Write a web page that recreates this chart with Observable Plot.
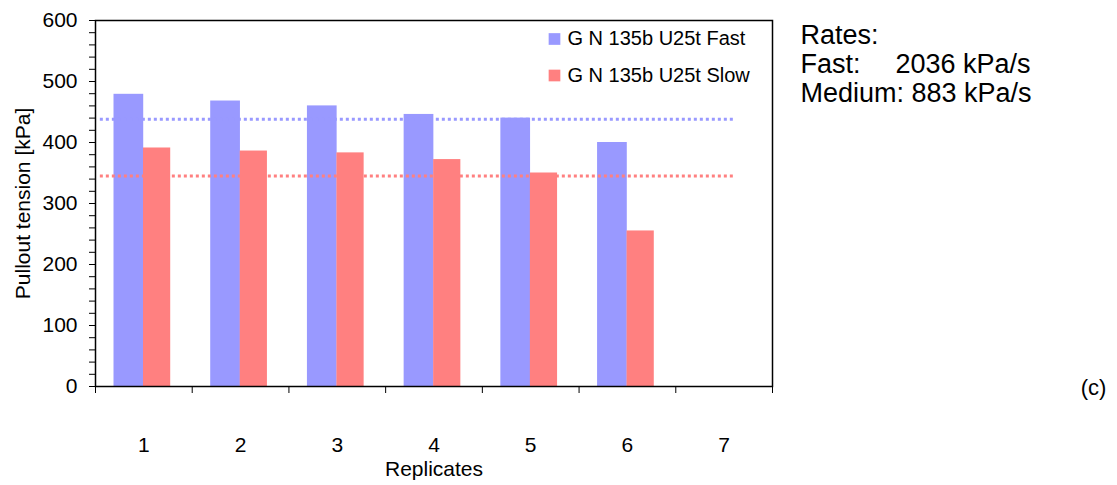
<!DOCTYPE html>
<html><head><meta charset="utf-8">
<script src="https://cdn.jsdelivr.net/npm/d3@7"></script>
<script src="https://cdn.jsdelivr.net/npm/@observablehq/plot@0.6"></script>
<style>body{margin:0;background:#fff;font-family:"Liberation Sans",Arial,sans-serif}</style>
</head><body><div id="chart"></div>
<script>
const replicates = [1, 2, 3, 4, 5, 6, 7];
const seriesNames = ["G N 135b U25t Fast", "G N 135b U25t Slow"];
const fastValues = [479, 468, 460, 446, 440, 400, null];
const slowValues = [391, 386, 383, 372, 350, 255, null];
const averageValues = [438, 345];
const averageSpan = [0.55, 7.12];
const yTicks = [0, 100, 200, 300, 400, 500, 600];
const yMinorTicks = d3.range(0, 601, 20);
const rateTitle = "Rates:";
const rateLabels = ["Fast:", "Medium: 883 kPa/s"];
const fastRate = "2036 kPa/s";
const panelLabel = "(c)";
const colors = ["#9999ff", "#ff8080"];

const rows = replicates.map((r, i) => ({rep: r, fast: fastValues[i], slow: slowValues[i]}))
  .filter(d => d.fast != null);
const averages = averageValues.map((v, i) => ({value: v, color: colors[i]}));
const boundaries = [replicates[0] - 0.5, ...replicates.map(r => r + 0.5)];

const legendMarks = seriesNames.flatMap((name, i) => [
  Plot.dot([name], {frameAnchor: "top-right", dx: -218, dy: 18.5 + 36.5 * i, symbol: "square", r: 6.6, fill: colors[i], stroke: "none"}),
  Plot.text([name], {frameAnchor: "top-right", lineAnchor: "middle", dx: -205, dy: 18.5 + 36.5 * i, text: d => d, textAnchor: "start", fontSize: 20, fill: "#000"})
]);

const rateText = (label, dx, dy) => Plot.text([label], {frameAnchor: "top-right", lineAnchor: "middle", dx, dy, text: d => d, textAnchor: "start", fontSize: 27, fill: "#000"});

const chart = Plot.plot({
  width: 1117,
  height: 485,
  marginLeft: 95,
  marginRight: 345,
  marginTop: 20,
  marginBottom: 99,
  style: {fontFamily: "'Liberation Sans', Arial, sans-serif", fontSize: "20px", color: "#000", background: "#fff"},
  x: {domain: [0.5, 7.5]},
  y: {domain: [0, 600]},
  marks: [
    Plot.rectY(rows, {x1: d => d.rep - 0.5, x2: d => d.rep + 0.5, y: "fast", fill: colors[0], insetLeft: 18.5, insetRight: 48.5}),
    Plot.rectY(rows, {x1: d => d.rep - 0.5, x2: d => d.rep + 0.5, y: "slow", fill: colors[1], insetLeft: 48, insetRight: 21.5}),
    Plot.ruleY(averages, {y: "value", x1: averageSpan[0], x2: averageSpan[1], stroke: "color", strokeWidth: 3, strokeDasharray: "3,3"}),
    Plot.axisY({ticks: yMinorTicks, tickFormat: () => "", tickSize: 6, label: null}),
    Plot.axisY({ticks: yTicks, tickSize: 6, tickPadding: 12, label: "Pullout tension [kPa]", labelAnchor: "center", labelArrow: "none", labelOffset: 80, fontSize: 21}),
    Plot.axisX({ticks: boundaries, tickFormat: () => "", tickSize: 7, label: null}),
    Plot.axisX({ticks: replicates, tickFormat: d => String(d), tickSize: 0, tickPadding: 51, label: "Replicates", labelAnchor: "center", labelArrow: "none", labelOffset: 89, fontSize: 21}),
    Plot.frame({stroke: "#000", strokeWidth: 1.5}),
    ...legendMarks,
    rateText(rateTitle, 28, 15),
    rateText(rateLabels[0], 28, 44),
    rateText(fastRate, 123, 44),
    rateText(rateLabels[1], 28, 73),
    Plot.text([panelLabel], {frameAnchor: "bottom-right", lineAnchor: "middle", dx: 321, dy: 1, text: d => d, textAnchor: "middle", fontSize: 22, fill: "#000"})
  ]
});
document.getElementById("chart").appendChild(chart);
</script>
</body></html>
